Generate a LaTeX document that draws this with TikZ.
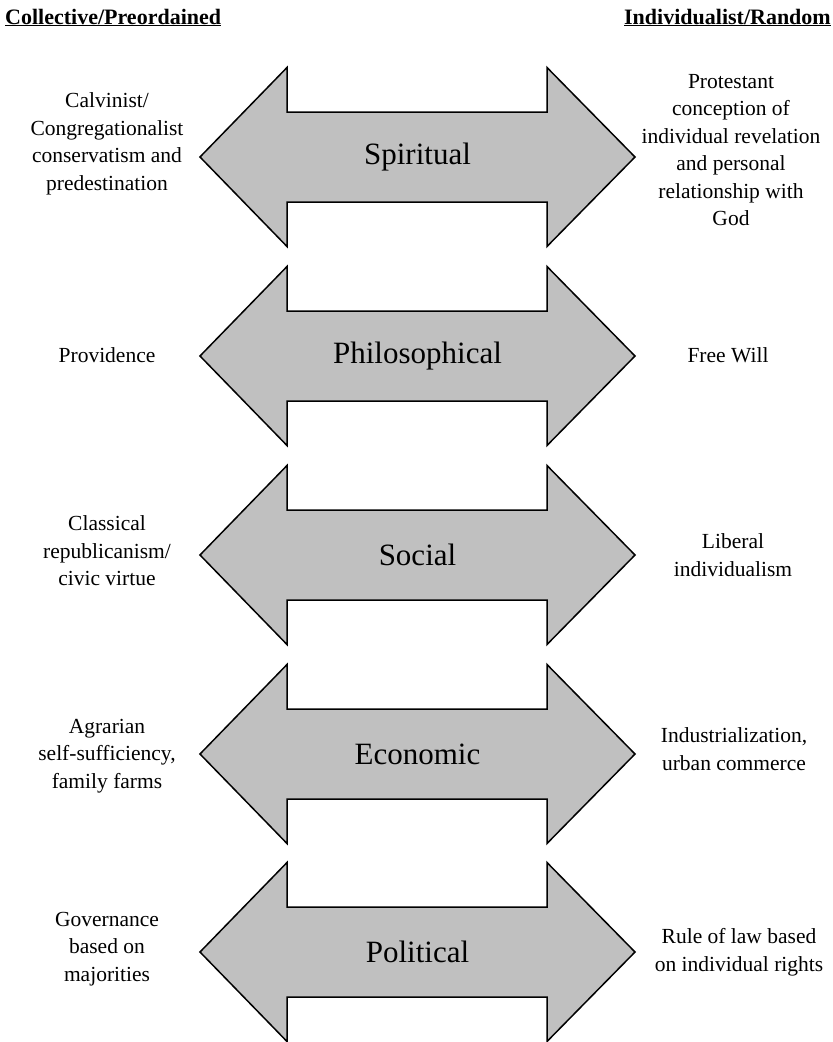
\documentclass[tikz,border=0pt]{standalone}
\usepackage{fontspec}
\setmainfont{Liberation Serif}
\usepackage{tikz}
\usetikzlibrary{positioning}
\definecolor{arrowgray}{RGB}{192,192,192}
\tikzstyle{bigarrow} = [draw=black, fill=arrowgray, line width=1.5pt, line join=miter]

\begin{document}
\begin{tikzpicture}[
    x=1pt, y=-1pt,
    catlabel/.style={font=\fontsize{31}{37}\selectfont},
    sidetext/.style={align=center, inner sep=0pt, font=\fontsize{21.5}{27.5}\selectfont},
    header/.style={inner sep=0pt, font=\fontsize{22}{26}\selectfont\bfseries}
  ]
    \useasboundingbox (0,0) rectangle (833,1042);

    % Column headers
    \node[header, anchor=base west] (headL) at (5,24) {\underline{Collective/Preordained}};
    \node[header, anchor=base east] (headR) at (831,24) {\underline{Individualist/Random}};

    % Double arrows
    \foreach \cy/\nm/\txt in {157/spiritual/Spiritual, 356/philosophical/Philosophical, 555/social/Social, 754/economic/Economic, 952/political/Political}{
      \draw[bigarrow] (200,\cy) -- ++(87,-89.5) -- ++(0,44.5) -- ++(260,0) -- ++(0,-44.5) -- ++(88,89.5)
        -- ++(-88,89.5) -- ++(0,-44.5) -- ++(-260,0) -- ++(0,44.5) -- cycle;
      \node[catlabel] (\nm) at (417.5,\cy) {\txt};
    }

    % Spiritual
    \node[sidetext] (spiritualL) at (107,144) {Calvinist/\\Congregationalist\\conservatism and\\predestination};
    \node[sidetext] (spiritualR) at (731,150) {Protestant\\conception of\\individual revelation\\and personal\\relationship with\\God};

    % Philosophical
    \node[sidetext] (philosophicalL) at (107,355) {Providence};
    \node[sidetext] (philosophicalR) at (728,355) {Free Will};

    % Social
    \node[sidetext] (socialL) at (107,551) {Classical\\republicanism/\\civic virtue};
    \node[sidetext] (socialR) at (733,555) {Liberal\\individualism};

    % Economic
    \node[sidetext] (economicL) at (107,756) {Agrarian\\self-sufficiency,\\family farms};
    \node[sidetext] (economicR) at (734,749) {Industrialization,\\urban commerce};

    % Political
    \node[sidetext] (politicalL) at (107,949) {Governance\\based on\\majorities};
    \node[sidetext] (politicalR) at (739,952) {Rule of law based\\on individual rights};
  \end{tikzpicture}
\end{document}
